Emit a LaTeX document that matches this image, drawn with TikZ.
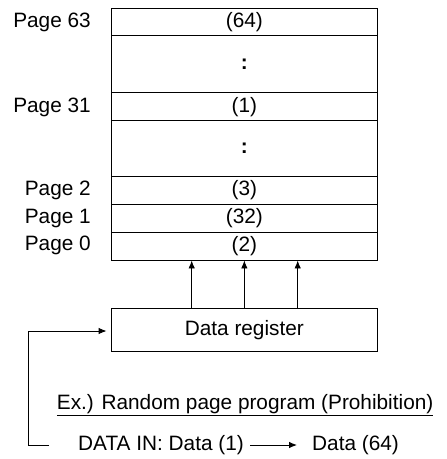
\documentclass[tikz,border=0pt]{standalone}
\usepackage{fontspec}
\setmainfont{Liberation Sans}
\usetikzlibrary{arrows.meta}
\begin{document}
\begin{tikzpicture}[x=1pt,y=-1pt,
  every node/.style={font=\fontsize{20.8}{24}\selectfont},
  row/.style={draw,line width=0.9pt,minimum width=266.7pt,inner sep=0pt,anchor=center},
  lbl/.style={anchor=east,inner sep=0pt},
  txt/.style={inner sep=0pt},
  arr/.style={line width=0.9pt,-{Latex[length=8pt,width=6.5pt]}},
  ln/.style={line width=0.9pt}]
\useasboundingbox (0,0) rectangle (447,459);
% memory rows
\node[row,minimum height=27.7pt] (r64) at (244.35,21.85) {(64)};
\node[row,minimum height=57pt]   (d1)  at (244.35,64.2) {\textbf{:}};
\node[row,minimum height=28pt]   (r1)  at (244.35,106.7) {(1)};
\node[row,minimum height=55.3pt] (d2)  at (244.35,148.35) {\textbf{:}};
\node[row,minimum height=28.3pt] (r3)  at (244.35,190.15) {(3)};
\node[row,minimum height=28pt]   (r32) at (244.35,218.3) {(32)};
\node[row,minimum height=27.7pt] (r2)  at (244.35,246.15) {(2)};
% page labels
\node[lbl] (p63) at (91,22) {Page 63};
\node[lbl] (p31) at (91,107) {Page 31};
\node[lbl] (p2)  at (91,190) {Page 2};
\node[lbl] (p1)  at (91,218) {Page 1};
\node[lbl] (p0)  at (91,245.5) {Page 0};
% data register
\node[row,minimum height=43.7pt] (reg) at (244.35,329.85) {Data register};
\draw[arr] ([xshift=-52.65pt]reg.north) -- ([xshift=-52.65pt]r2.south);
\draw[arr] (reg.north) -- (r2.south);
\draw[arr] ([xshift=53.35pt]reg.north) -- ([xshift=53.35pt]r2.south);
% example text
\node[txt,anchor=west] (ex) at (56.7,405.5) {\underline{Ex.) Random page program (Prohibition)}};
\node[txt,anchor=west] (din) at (78,445) {DATA IN: Data (1)};
\node[txt,anchor=west] (d64) at (312,445) {Data (64)};
\draw[arr] ([xshift=6pt]din.east) -- ([xshift=-15pt]d64.west);
\coordinate (fb) at (49,445);
\draw[arr] (fb) -- (28.3,445) -- (28.3,331) -- ([xshift=-4pt]reg.west |- 0,331);
\end{tikzpicture}
\end{document}
